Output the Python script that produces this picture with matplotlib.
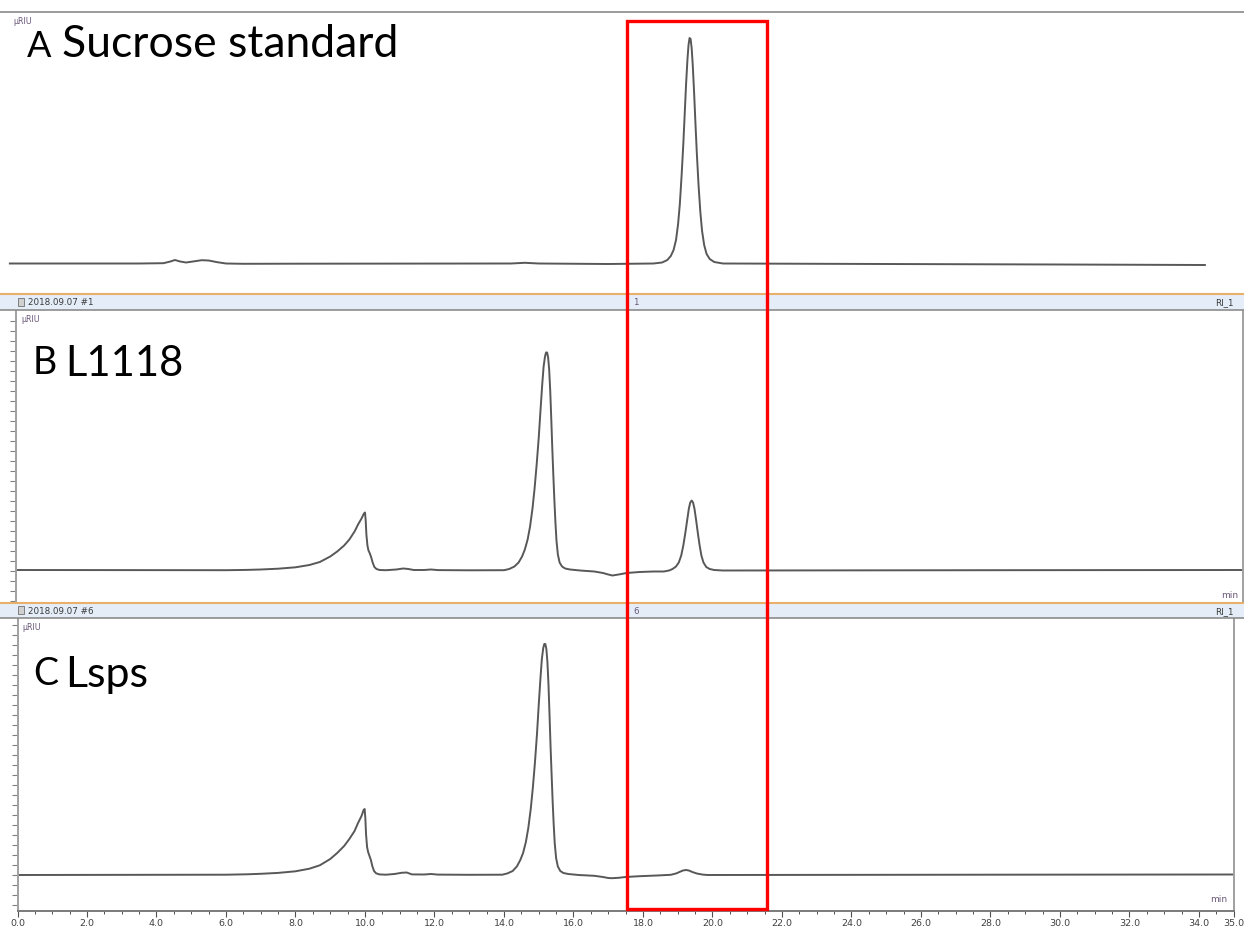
import matplotlib
matplotlib.use("Agg")
import matplotlib.pyplot as plt
from matplotlib.patches import Rectangle
from matplotlib.lines import Line2D

# Chromatogram traces: time (min) and signal above baseline (uRIU, arbitrary)
t_a = [-0.22, 3.5, 4.2, 4.4, 4.53, 4.68, 4.85, 5.05, 5.3, 5.5, 5.75, 6.0, 6.5, 8.0, 14.2,
       14.6, 15.0, 17.0, 18.3, 18.55, 18.70, 18.80, 18.88, 18.95, 19.01, 19.06, 19.11,
       19.16, 19.20, 19.24, 19.28, 19.31, 19.34, 19.37, 19.40, 19.43, 19.47, 19.51, 19.55,
       19.60, 19.65, 19.70, 19.76, 19.83, 19.92, 20.05, 20.3, 25.0, 30.0, 34.17]
h_a = [0.5, 0.5, 0.8, 2.5, 4.0, 2.5, 1.5, 2.5, 3.8, 3.5, 1.8, 0.5, 0.2, 0.3, 0.5,
       1.2, 0.5, 0.0, 0.5, 1.5, 4, 8, 14, 24, 40, 60, 88,
       120, 150, 180, 205, 219, 226, 225, 216, 200, 172, 140, 110,
       78, 52, 33, 19, 10, 5, 2, 0.5, 0.0, -0.5, -1.0]

t_b = [-0.1, 6.0, 6.6, 7.0, 7.5, 8.0, 8.4, 8.7, 9.0, 9.2, 9.4, 9.55, 9.7, 9.8, 9.9, 9.97, 10.00,
       10.02, 10.04, 10.07, 10.10, 10.14, 10.18, 10.22, 10.27, 10.33, 10.42, 10.6, 10.9,
       11.1, 11.25, 11.4, 11.7, 11.9, 12.1, 13.0, 14.0, 14.15, 14.30, 14.42, 14.52, 14.60,
       14.68, 14.75, 14.82, 14.88, 14.94, 15.00, 15.05, 15.10, 15.14, 15.18, 15.21, 15.24,
       15.27, 15.30, 15.33, 15.36, 15.39, 15.42, 15.45, 15.48, 15.51, 15.55, 15.60, 15.67,
       15.76, 15.9, 16.19, 16.6, 16.85, 17.0, 17.12, 17.3, 17.53, 17.9, 18.3, 18.6, 18.75,
       18.85, 18.95, 19.03, 19.10, 19.16, 19.22, 19.27, 19.32, 19.36, 19.40, 19.44, 19.48,
       19.53, 19.58, 19.63, 19.68, 19.74, 19.82, 19.92, 20.05, 20.3, 28.0, 35.3]
h_b = [0.5, 0.3, 0.6, 1.0, 1.8, 3.2, 5.5, 8.5, 14, 19, 25, 31, 39, 46, 52, 57, 58,
       50, 36, 25, 20, 17, 13, 8, 3.5, 1.5, 0.5, 0.3, 1.0,
       2.0, 1.5, 0.5, 0.5, 1.0, 0.4, 0.2, 0.3, 1.5, 4, 8, 14, 21,
       31, 44, 62, 82, 106, 133, 160, 186, 204, 214, 218, 218,
       213, 201, 180, 152, 122, 95, 70, 48, 30, 16, 8, 4,
       2, 1, 0, -1, -2.5, -4, -5, -4, -2.5, -1.5, -1, -1, 0,
       1.5, 4, 8, 15, 25, 38, 50, 62, 68, 70, 68, 62,
       50, 37, 25, 15, 8, 3.5, 1.5, 0.5, 0, 0.3, 0.5]

t_c = [0.0, 6.0, 6.6, 7.0, 7.5, 8.0, 8.4, 8.7, 9.0, 9.2, 9.4, 9.55, 9.7, 9.8, 9.9, 9.96, 9.99,
       10.01, 10.03, 10.06, 10.09, 10.13, 10.17, 10.21, 10.26, 10.32, 10.41, 10.6, 10.85,
       11.05, 11.2, 11.35, 11.7, 11.9, 12.1, 13.0, 13.95, 14.10, 14.25, 14.37, 14.47, 14.55,
       14.63, 14.70, 14.77, 14.83, 14.89, 14.95, 15.00, 15.05, 15.09, 15.13, 15.16, 15.19,
       15.22, 15.25, 15.28, 15.31, 15.34, 15.37, 15.40, 15.43, 15.46, 15.50, 15.55, 15.62,
       15.71, 15.85, 16.15, 16.6, 16.85, 17.0, 17.1, 17.3, 17.5, 17.9, 18.4, 18.8, 18.95,
       19.05, 19.15, 19.24, 19.32, 19.42, 19.55, 19.7, 19.85, 28.0, 35.0]
h_c = [0.0, 0.3, 0.7, 1.2, 2.1, 3.7, 6.3, 9.7, 16, 22, 29, 36, 44, 52, 59, 65, 66,
       57, 41, 28, 23, 19, 15, 9, 4, 1.7, 0.6, 0.3, 1.0,
       2.2, 2.5, 0.6, 0.5, 1.0, 0.4, 0.2, 0.3, 1.6, 4, 8.5, 15, 22,
       33, 47, 66, 87, 112, 141, 170, 197, 216, 227, 231, 231,
       226, 213, 191, 161, 129, 101, 74, 51, 32, 17, 8.5, 4,
       2, 1, 0, -0.8, -2, -3, -3.2, -2.8, -2, -1.2, -0.5, 0.2, 1.5,
       3, 4.5, 5, 4.5, 3, 1.5, 0.5, 0, 0.3, 0.5]

tick_vals = [0, 2, 4, 6, 8, 10, 12, 14, 16, 18, 20, 22, 24, 26, 28, 30, 32, 34, 35]
tick_labels = ["0.0", "2.0", "4.0", "6.0", "8.0", "10.0", "12.0", "14.0", "16.0", "18.0",
               "20.0", "22.0", "24.0", "26.0", "28.0", "30.0", "32.0", "34.0", "35.0"]

panel_letters = ["A", "B", "C"]
panel_names = ["Sucrose standard", "L1118", "Lsps"]
header_dates = ["2018.09.07 #1", "2018.09.07 #6"]
header_ids = ["1", "6"]

W, H = 1244, 928
X0, SCALE = 17.5, 34.75   # pixel of t=0 and pixels per minute

TRACE = "#585858"
FRAME = "#a0a0a0"
ORANGE = "#e8b06a"
HEADBG = "#e5eef8"
PURPLE = "#6a5878"


def fbox(l, t, r, b):
    return [l / W, 1 - b / H, (r - l) / W, (b - t) / H]


def tmin(px):
    return (px - X0) / SCALE


def trace_axes(fig, l, t, r, b, base):
    ax = fig.add_axes(fbox(l, t, r, b))
    ax.set_xlim(tmin(l), tmin(r))
    ax.set_ylim(-(b - base), base - t)
    ax.set_facecolor("none")
    return ax


fig = plt.figure(figsize=(W / 100, H / 100), dpi=100)
fig.patch.set_facecolor("white")

# ---- panel A (cropped screenshot, no frame)
fig.add_artist(Line2D([0, 1], [1 - 12.5 / H] * 2, color="#8a8a8a", lw=1.2))
ax_a = trace_axes(fig, 0, 14, W, 285, 265)
ax_a.plot(t_a, h_a, color=TRACE, lw=1.4, solid_joinstyle="round")
ax_a.axis("off")
fig.text(13 / W, 1 - 22 / H, "\u00b5RIU", fontsize=5.8, color=PURPLE, ha="left", va="center")

# ---- header bars for B and C
for (top, bot), date, pid in zip([(295, 310.5), (603.5, 619)], header_dates, header_ids):
    fig.add_artist(Rectangle((0, 1 - bot / H), 1, (bot - top) / H,
                             transform=fig.transFigure, facecolor=HEADBG, edgecolor="none"))
    fig.add_artist(Line2D([0, 1], [1 - top / H] * 2, color=ORANGE, lw=1.5))
    fig.add_artist(Line2D([0, 1], [1 - bot / H] * 2, color="#8c8c8c", lw=1.2))
    mid = 1 - (top + bot) / 2 / H
    fig.add_artist(Rectangle((18 / W, mid - 4 / H), 6 / W, 8 / H, transform=fig.transFigure,
                             facecolor="#d0d0d0", edgecolor="#707070", lw=0.6))
    fig.text(28 / W, mid, date, fontsize=6.3, color="#3a3a3a", va="center", ha="left")
    fig.text(633 / W, mid, pid, fontsize=6.3, color=PURPLE, va="center", ha="left")
    fig.text(1234 / W, mid, "RI_1", fontsize=6.3, color="#3a3a3a", va="center", ha="right")

# ---- panel B
ax_b = trace_axes(fig, 16, 311, 1243, 603, 571.5)
ax_b.plot(t_b, h_b, color=TRACE, lw=1.4, solid_joinstyle="round")

# ---- panel C
ax_c = trace_axes(fig, 17.5, 619, 1233.7, 912, 876)
ax_c.plot(t_c, h_c, color=TRACE, lw=1.4, solid_joinstyle="round")
ax_c.set_xlim(0, 35)

for ax in (ax_b, ax_c):
    for side in ("left", "right"):
        ax.spines[side].set_color(FRAME)
        ax.spines[side].set_linewidth(1.4)
    ax.spines["top"].set_visible(False)
    ax.set_yticks(range(-30, 260, 10))
    ax.tick_params(axis="y", direction="out", length=4, color="#808080", width=0.8,
                   labelleft=False, pad=1)
    ax.text(0.004, 0.985, "\u00b5RIU", transform=ax.transAxes,
            fontsize=5.8, color=PURPLE, va="top", ha="left")

ax_b.spines["bottom"].set_visible(False)
ax_b.set_xticks([])
fig.text(1238 / W, 1 - 595 / H, "min", fontsize=6.5, color=PURPLE, ha="right", va="center")
fig.text(1227 / W, 1 - 900 / H, "min", fontsize=6.5, color=PURPLE, ha="right", va="center")

ax_c.spines["bottom"].set_color("#7a7a7a")
ax_c.spines["bottom"].set_linewidth(1.4)
ax_c.set_xticks(tick_vals)
ax_c.set_xticklabels(tick_labels)
ax_c.set_xticks([v / 2 for v in range(0, 71)], minor=True)
ax_c.tick_params(axis="x", which="major", direction="out", length=4, width=0.8,
                 color="#505050", labelsize=6.8, labelcolor="#404040", pad=1)
ax_c.tick_params(axis="x", which="minor", direction="out", length=2, width=0.7, color="#505050")

# ---- big panel labels (typed onto the screenshots)
big_font = ["Lato", "DejaVu Sans"]
fig.text(27 / W, 1 - 57 / H, panel_letters[0], fontsize=26, family=big_font, va="baseline")
fig.text(62 / W, 1 - 57 / H, panel_names[0], fontsize=32, family=big_font, va="baseline")
fig.text(33 / W, 1 - 374 / H, panel_letters[1], fontsize=27, family=big_font, va="baseline")
fig.text(65 / W, 1 - 376 / H, panel_names[1], fontsize=30, family=big_font, va="baseline")
fig.text(33 / W, 1 - 685 / H, panel_letters[2], fontsize=27, family=big_font, va="baseline")
fig.text(65 / W, 1 - 687 / H, panel_names[2], fontsize=31, family=big_font, va="baseline")

# ---- red highlight box around the sucrose retention window
fig.add_artist(Rectangle((627 / W, 1 - 910 / H), (767 - 627) / W, (910 - 22) / H,
                         transform=fig.transFigure, facecolor="none", edgecolor="#ff0000",
                         lw=2.4, zorder=10))

fig.savefig("out.png", dpi=100, facecolor="white")
